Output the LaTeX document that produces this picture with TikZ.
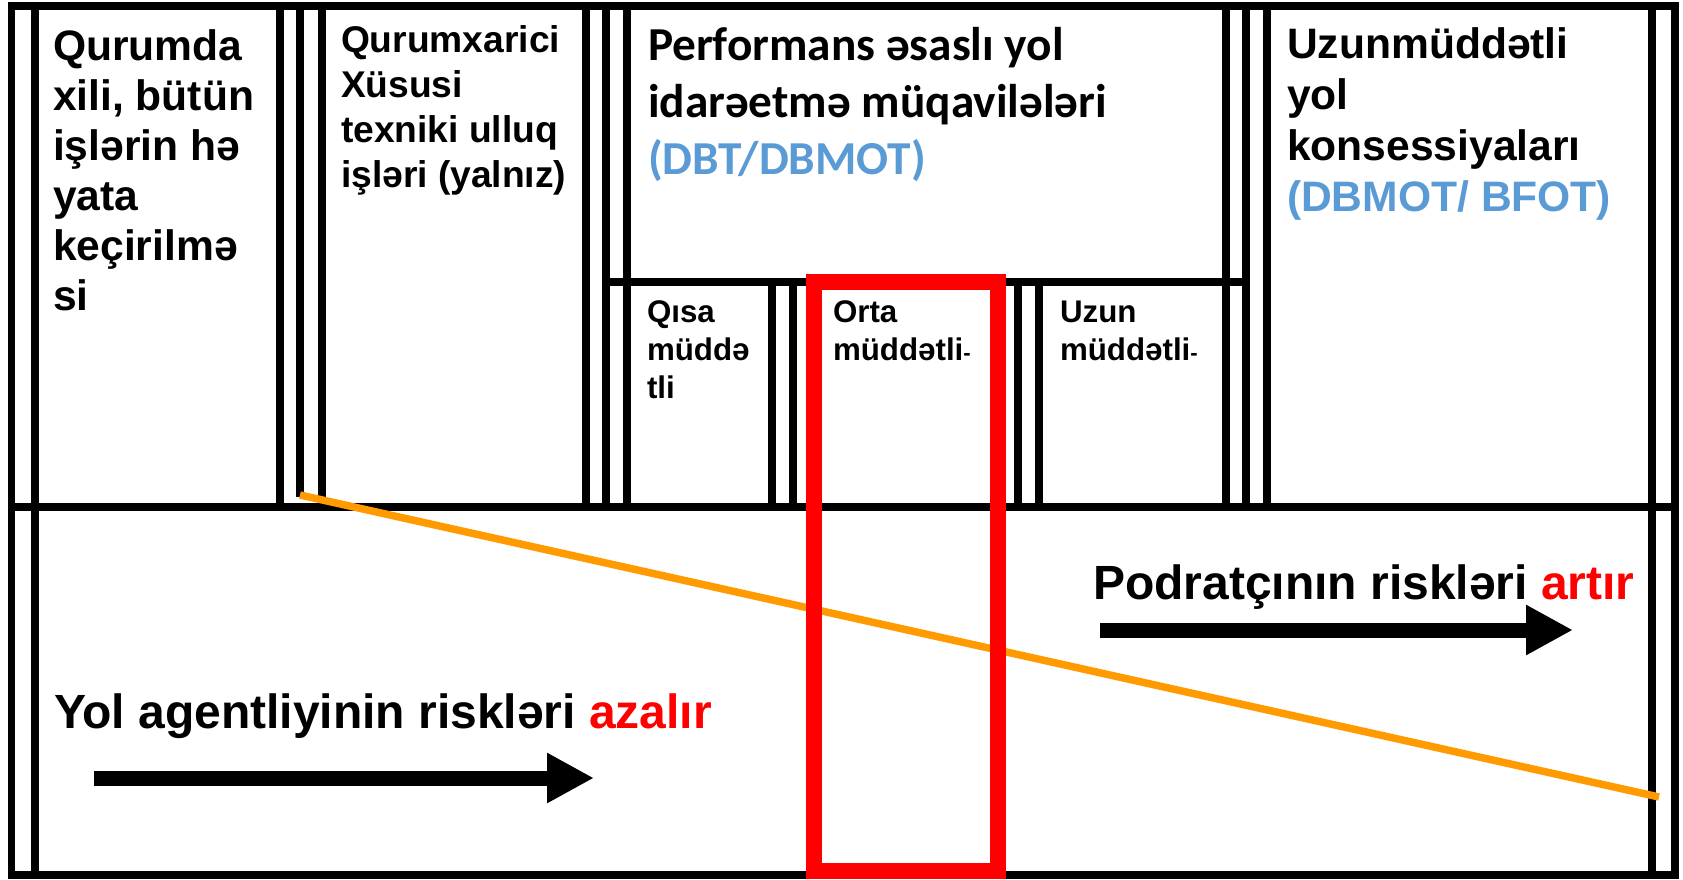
\documentclass[tikz,border=0pt]{standalone}
\usepackage{fontspec}
\setmainfont{Liberation Sans}
\newfontfamily\calibri{Carlito}
\usetikzlibrary{arrows.meta}
\definecolor{blu}{HTML}{5B9BD5}
\definecolor{orng}{RGB}{255,155,0}
\definecolor{rd}{RGB}{255,0,0}
\tikzset{
  bl/.style={line width=7.5pt, black},
  txtbase/.style={anchor=base west, inner sep=0pt, outer sep=0pt, text=black},
  hA/.style={txtbase, font=\bfseries\fontsize{42.6}{50}\selectfont},
  hB/.style={txtbase, font=\bfseries\fontsize{37.2}{45}\selectfont},
  hC/.style={txtbase, font=\calibri\bfseries\fontsize{47.3}{57}\selectfont},
  hS/.style={txtbase, font=\bfseries\fontsize{31.3}{38}\selectfont},
  hL/.style={txtbase, font=\bfseries\fontsize{48}{56}\selectfont},
  bigarrow/.style={line width=15pt, black, -{Triangle[length=47pt,width=47pt]}},
  riskline/.style={line width=7.5pt, orng},
  focusbox/.style={line width=16pt, rd}
}
\begin{document}
\begin{tikzpicture}[x=1pt,y=-1pt]
\useasboundingbox (0,0) rectangle (1683,879);
\fill[white] (0,0) rectangle (1683,879);
% outer frame
\draw[bl] (7.75,6) -- (1678.75,6);
\draw[bl] (7.75,875) -- (1678.75,875);
\draw[bl] (11.5,2.25) -- (11.5,879);
\draw[bl] (35,2.25) -- (35,879);
\draw[bl] (1652,2.25) -- (1652,879);
\draw[bl] (1675,2.25) -- (1675,879);
% middle horizontal
\draw[bl] (11.5,507) -- (1675,507);
% top row separators
\draw[bl] (280,6) -- (280,507);
\draw[bl] (300,6) -- (300,497);
\draw[bl] (322,6) -- (322,507);
\draw[bl] (586,6) -- (586,507);
\draw[bl] (606,6) -- (606,507);
\draw[bl] (627,6) -- (627,507);
\draw[bl] (1226,6) -- (1226,507);
\draw[bl] (1246,6) -- (1246,507);
\draw[bl] (1267,6) -- (1267,507);
% sub row
\draw[bl] (606,282) -- (1246,282);
\draw[bl] (772,282) -- (772,507);
\draw[bl] (793,282) -- (793,507);
\draw[bl] (1018,282) -- (1018,507);
\draw[bl] (1039,282) -- (1039,507);

% column 1
\node[hA] (c1a) at (53,60) {Qurumda};
\node[hA] (c1b) at (53,110) {xili, bütün};
\node[hA] (c1c) at (53,160) {işlərin hə};
\node[hA] (c1d) at (53,210) {yata};
\node[hA] (c1e) at (53,260) {keçirilmə};
\node[hA] (c1f) at (53,310) {si};
% column 2
\node[hB] (c2a) at (341,52) {Qurumxarici};
\node[hB] (c2b) at (341,97) {Xüsusi};
\node[hB] (c2c) at (341,142) {texniki ulluq};
\node[hB] (c2d) at (341,187) {işləri (yalnız)};
% column 3
\node[hC] (c3a) at (648,60) {Performans əsaslı yol};
\node[hC] (c3b) at (648,117) {idarəetmə müqavilələri};
\node[hC, text=blu] (c3c) at (648,174) {(DBT/DBMOT)};
% column 4
\node[hA] (c4a) at (1287,58) {Uzunmüddətli};
\node[hA] (c4b) at (1287,109) {yol};
\node[hA] (c4c) at (1287,160) {konsessiyaları};
\node[hA, text=blu] (c4d) at (1287,211) {(DBMOT/ BFOT)};
% sub columns
\node[hS] (s1a) at (647,322) {Qısa};
\node[hS] (s1b) at (647,360) {müddə};
\node[hS] (s1c) at (647,398) {tli};
\node[hS] (s2a) at (833,322) {Orta};
\node[hS] (s2b) at (833,360) {müddətli{\fontsize{22}{22}\selectfont -}};
\node[hS] (s3a) at (1060,322) {Uzun};
\node[hS] (s3b) at (1060,360) {müddətli{\fontsize{22}{22}\selectfont -}};

% orange risk line
\coordinate (o1) at (300,495);
\coordinate (o2) at (1659,797);
\draw[riskline] (o1) -- (o2);

% red highlight
\coordinate (r1) at (814,282);
\coordinate (r2) at (998,871);
\draw[focusbox] (r1) rectangle (r2);

% bottom labels
\node[hL] (lblR) at (1093,599) {Podratçının riskləri \textcolor{rd}{artır}};
\node[hL] (lblL) at (54,728) {Yol agentliyinin riskləri \textcolor{rd}{azalır}};

% arrows
\coordinate (aR1) at (1100,630);
\coordinate (aR2) at (1573,630);
\coordinate (aL1) at (94,778);
\coordinate (aL2) at (594,778);
\draw[bigarrow] (aR1) -- (aR2);
\draw[bigarrow] (aL1) -- (aL2);
\end{tikzpicture}
\end{document}
